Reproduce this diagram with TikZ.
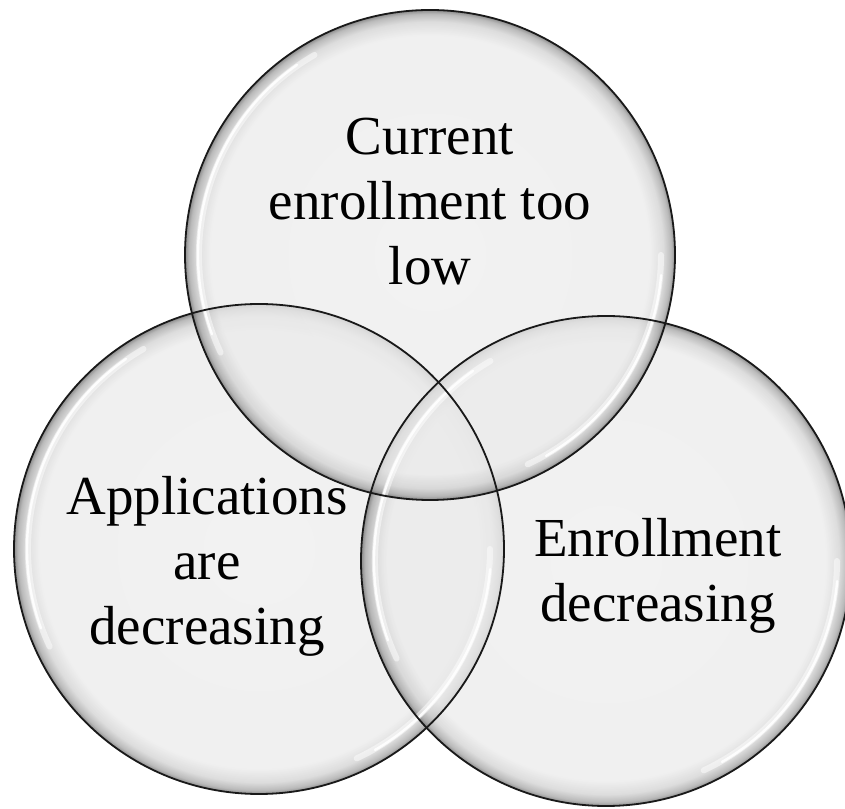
\documentclass[tikz,border=0pt]{standalone}
\usepackage{fontspec}
\setmainfont{Liberation Serif}
\pgfdeclareradialshading{glassball}{\pgfpoint{0bp}{0bp}}{color(0bp)=(black!7); color(22.4bp)=(black!8); color(23.8bp)=(black!18); color(24.6bp)=(black!36); color(25bp)=(black!60); color(50bp)=(black!60)}

\begin{document}
\begin{tikzpicture}[x=0.5pt,y=0.5pt,
		bubble/.style={shading=glassball, fill opacity=0.75},
		rim/.style={draw=black!90, line width=0.9pt},
		glow/.style={draw=white, line cap=round, line width=3pt, draw opacity=0.5},
		shine/.style={draw=white, line cap=round, line width=1.2pt, draw opacity=0.9},
		label/.style={align=center, font=\fontsize{27.5}{32.5}\selectfont}]
		\useasboundingbox (0,0) rectangle (845,808);

		\coordinate (top) at (430,553);
		\coordinate (lft) at (259,259);
		\coordinate (rgt) at (606,247);

		% glass discs
		\foreach \c in {lft,rgt,top}
			\shade[bubble] (\c) circle (245);

		% highlights, upper left and lower right
		\foreach \c in {lft,rgt,top} {
			\draw[glow] (\c) ++(120:231) arc[start angle=120, end angle=205, radius=231];
			\draw[shine] (\c) ++(125:232) arc[start angle=125, end angle=200, radius=232];
			\draw[glow] (\c) ++(-65:231) arc[start angle=-65, end angle=0, radius=231];
			\draw[shine] (\c) ++(-60:232) arc[start angle=-60, end angle=-5, radius=232];
		}

		% outlines
		\foreach \c in {lft,rgt,top}
			\draw[rim] (\c) circle (245);

		% last line of each label sits on the given point
		\node[label, anchor=base] (curtxt) at (430,523) {Current\\enrollment too\\low};
		\node[label, anchor=base] (apptxt) at (207,163) {Applications\\are\\decreasing};
		\node[label, anchor=base] (enrtxt) at (658,186) {Enrollment\\decreasing};
	\end{tikzpicture}
\end{document}
